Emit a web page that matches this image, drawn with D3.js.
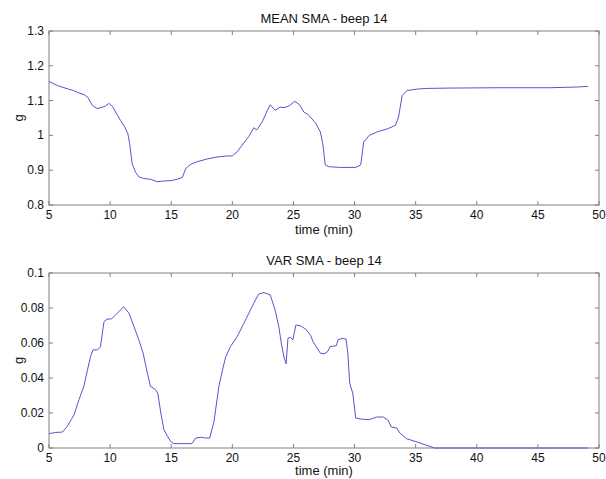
<!DOCTYPE html>
<html>
<head>
<meta charset="utf-8">
<script src="https://cdn.jsdelivr.net/npm/d3@7"></script>
<style>
  body { margin: 0; background: #fff; }
  text { font-family: "Liberation Sans", Arial, sans-serif; font-size: 12px; fill: #111; }
  text.lbl { font-size: 13px; }
</style>
</head>
<body>
<div id="chart"></div>
<script>
// MEAN SMA - beep 14 (time in min, g)
const meanTime = [5.0, 5.7, 6.5, 7.0, 7.45, 7.9, 8.2, 8.55, 8.95, 9.35, 9.6, 9.9, 10.2, 10.45, 10.85, 11.2, 11.45, 11.6, 11.8, 12.1, 12.35, 12.75, 13.3, 13.85, 14.4, 15.0, 15.5, 15.9, 16.2, 16.6, 17.1, 17.9, 18.75, 19.6, 20.0, 20.4, 20.8, 21.35, 21.75, 22.0, 22.45, 22.8, 23.1, 23.5, 23.9, 24.3, 24.7, 25.1, 25.5, 25.85, 26.2, 26.8, 27.2, 27.4, 27.6, 27.9, 28.85, 30.1, 30.5, 30.75, 31.2, 31.85, 32.7, 33.35, 33.6, 33.9, 34.3, 35.1, 35.9, 37.8, 41.9, 46.0, 48.2, 49.1];
const meanValue = [1.155, 1.143, 1.134, 1.129, 1.122, 1.117, 1.108, 1.086, 1.077, 1.081, 1.084, 1.092, 1.083, 1.067, 1.043, 1.024, 1.005, 0.977, 0.919, 0.893, 0.881, 0.876, 0.874, 0.867, 0.869, 0.870, 0.874, 0.879, 0.905, 0.917, 0.924, 0.932, 0.938, 0.941, 0.941, 0.953, 0.972, 0.997, 1.022, 1.016, 1.039, 1.067, 1.088, 1.072, 1.081, 1.080, 1.086, 1.098, 1.088, 1.067, 1.060, 1.036, 1.010, 0.977, 0.915, 0.910, 0.908, 0.908, 0.915, 0.981, 1.000, 1.010, 1.019, 1.029, 1.053, 1.115, 1.129, 1.133, 1.135, 1.136, 1.137, 1.137, 1.139, 1.141];

// VAR SMA - beep 14
const varTime = [5.0, 5.55, 6.1, 6.5, 7.05, 7.45, 7.85, 8.15, 8.4, 8.6, 8.95, 9.2, 9.5, 9.75, 10.1, 10.45, 10.85, 11.1, 11.55, 11.95, 12.35, 12.7, 13.05, 13.3, 13.65, 13.9, 14.15, 14.4, 14.7, 14.95, 15.2, 16.3, 16.7, 17.0, 17.4, 17.8, 18.15, 18.5, 18.9, 19.2, 19.45, 19.85, 20.4, 20.95, 21.35, 21.75, 22.15, 22.6, 23.1, 23.5, 23.8, 24.05, 24.25, 24.4, 24.55, 24.75, 24.95, 25.2, 25.6, 26.0, 26.4, 26.6, 27.2, 27.5, 27.8, 28.0, 28.5, 28.65, 29.0, 29.3, 29.45, 29.6, 29.85, 30.1, 30.55, 31.2, 31.8, 32.35, 32.75, 33.0, 33.45, 33.7, 34.25, 34.95, 35.75, 36.55, 49.1];
const varValue = [0.0082, 0.0089, 0.0091, 0.0124, 0.019, 0.0276, 0.0352, 0.0447, 0.0523, 0.0561, 0.0561, 0.0576, 0.0722, 0.0736, 0.0738, 0.076, 0.0789, 0.0808, 0.077, 0.0694, 0.0618, 0.0542, 0.0428, 0.0352, 0.0338, 0.0314, 0.020, 0.0105, 0.0067, 0.0038, 0.0025, 0.0025, 0.0025, 0.0057, 0.0061, 0.0057, 0.0057, 0.0152, 0.0352, 0.0447, 0.0519, 0.058, 0.0637, 0.0713, 0.077, 0.0827, 0.088, 0.0888, 0.0875, 0.0789, 0.0694, 0.058, 0.0513, 0.0481, 0.0627, 0.0633, 0.0618, 0.0703, 0.0698, 0.0679, 0.0645, 0.0608, 0.0542, 0.0538, 0.0551, 0.058, 0.0584, 0.0618, 0.0627, 0.0622, 0.0542, 0.0371, 0.0314, 0.0171, 0.0165, 0.0162, 0.0177, 0.0177, 0.0158, 0.012, 0.0114, 0.0086, 0.0053, 0.0038, 0.0019, 0.0, 0.0];

const xTicks = [5, 10, 15, 20, 25, 30, 35, 40, 45, 50];
const meanTicks = [0.8, 0.9, 1.0, 1.1, 1.2, 1.3];
const varTicks = [0, 0.02, 0.04, 0.06, 0.08, 0.1];

const svg = d3.select("#chart").append("svg")
  .attr("width", 606)
  .attr("height", 479);

const left = 49, right = 599;

function drawPanel(top, bottom, xs, ys, yDomain, yTicks, title, xlabelGap) {
  const x = d3.scaleLinear().domain([5, 50]).range([left, right]);
  const y = d3.scaleLinear().domain(yDomain).range([bottom, top]);
  const g = svg.append("g");

  g.append("rect")
    .attr("x", left).attr("y", top)
    .attr("width", right - left).attr("height", bottom - top)
    .attr("fill", "#fff").attr("stroke", "#808080").attr("stroke-width", 1);

  const line = d3.line().x(d => x(d[0])).y(d => y(d[1]));
  g.append("path")
    .datum(xs.map((t, i) => [t, ys[i]]))
    .attr("d", line)
    .attr("fill", "none")
    .attr("stroke", "#5555cc")
    .attr("stroke-width", 1);

  // inside ticks on all sides
  const tickLen = 4;
  const ax = g.append("g").attr("stroke", "#808080");
  xTicks.forEach(t => {
    ax.append("line").attr("x1", x(t)).attr("x2", x(t)).attr("y1", bottom).attr("y2", bottom - tickLen);
    ax.append("line").attr("x1", x(t)).attr("x2", x(t)).attr("y1", top).attr("y2", top + tickLen);
  });
  yTicks.forEach(t => {
    ax.append("line").attr("x1", left).attr("x2", left + tickLen).attr("y1", y(t)).attr("y2", y(t));
    ax.append("line").attr("x1", right).attr("x2", right - tickLen).attr("y1", y(t)).attr("y2", y(t));
  });

  g.selectAll(".xt").data(xTicks).enter().append("text")
    .attr("x", d => x(d)).attr("y", bottom + 14)
    .attr("text-anchor", "middle")
    .text(d => d);

  g.selectAll(".yt").data(yTicks).enter().append("text")
    .attr("x", left - 5).attr("y", d => y(d) + 4)
    .attr("text-anchor", "end")
    .text(d => d3.format("~g")(d));

  g.append("text").attr("class", "lbl")
    .attr("x", (left + right) / 2).attr("y", top - 8)
    .attr("text-anchor", "middle")
    .text(title);

  g.append("text").attr("class", "lbl")
    .attr("x", (left + right) / 2).attr("y", bottom + xlabelGap)
    .attr("text-anchor", "middle")
    .text("time (min)");

  g.append("text").attr("class", "lbl")
    .attr("transform", "translate(23," + ((top + bottom) / 2) + ") rotate(-90)")
    .attr("text-anchor", "middle")
    .text("g");
}

drawPanel(31, 205, meanTime, meanValue, [0.8, 1.3], meanTicks, "MEAN SMA - beep 14", 29);
drawPanel(273, 448, varTime, varValue, [0, 0.1], varTicks, "VAR SMA - beep 14", 27);
</script>
</body>
</html>
